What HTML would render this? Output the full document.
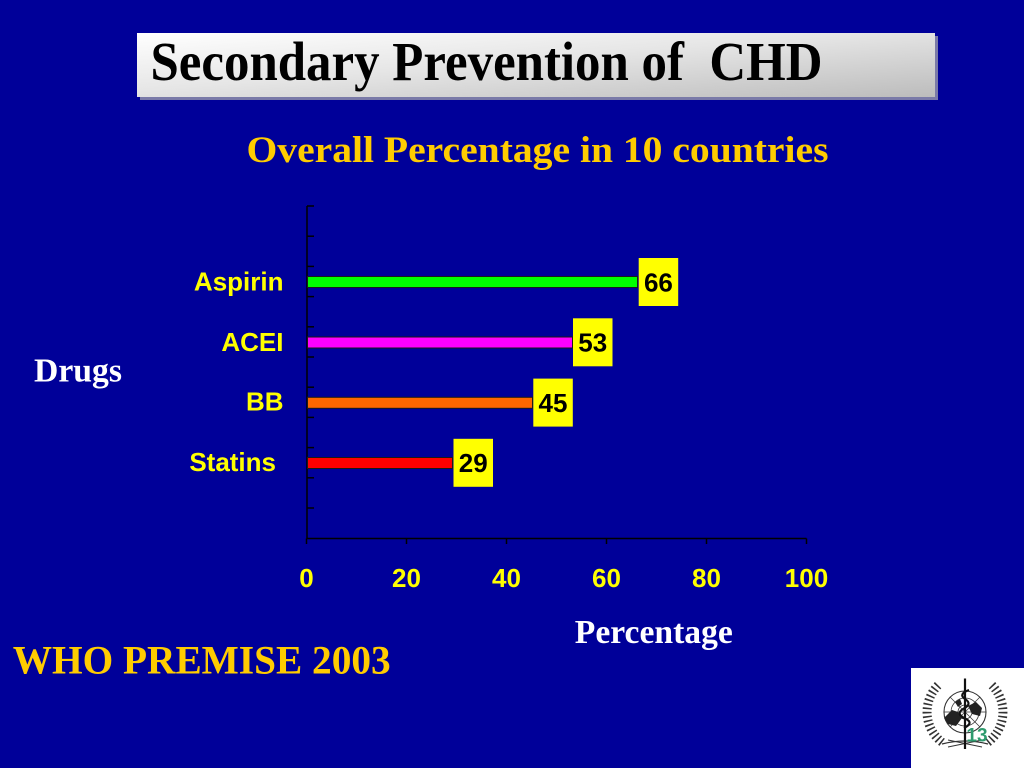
<!DOCTYPE html>
<html>
<head>
<meta charset="utf-8">
<style>
  html,body{margin:0;padding:0;background:#000099;}
  svg{display:block;}
</style>
</head>
<body>
<svg width="1024" height="768" viewBox="0 0 1024 768" xmlns="http://www.w3.org/2000/svg">
  <defs>
    <linearGradient id="tg" x1="0" y1="0" x2="1" y2="1">
      <stop offset="0" stop-color="#ffffff"/>
      <stop offset="0.45" stop-color="#e6e6e6"/>
      <stop offset="1" stop-color="#bcbcbc"/>
    </linearGradient>
  </defs>
  <rect x="0" y="0" width="1024" height="768" fill="#000099"/>

  <!-- Title box -->
  <rect x="140" y="36" width="798" height="64" fill="#7a7aa8"/>
  <rect x="137" y="33" width="798" height="64" fill="url(#tg)"/>
  <text x="150.5" y="80" font-family="Liberation Serif, serif" font-weight="bold" font-size="55" fill="#000" textLength="672" lengthAdjust="spacingAndGlyphs" xml:space="preserve">Secondary Prevention of  CHD</text>

  <!-- Subtitle -->
  <text x="246.5" y="162" font-family="Liberation Serif, serif" font-weight="bold" font-size="37" fill="#FFCC00" textLength="582" lengthAdjust="spacingAndGlyphs">Overall Percentage in 10 countries</text>

  <!-- Axes -->
  <g stroke="#000" stroke-width="1.5" fill="none">
    <line x1="307" y1="206" x2="307" y2="539"/>
    <line x1="306.5" y1="538.5" x2="806.5" y2="538.5"/>
    <line x1="307" y1="206" x2="314" y2="206"/>
    <line x1="307" y1="236.2" x2="314" y2="236.2"/>
    <line x1="307" y1="266.4" x2="314" y2="266.4"/>
    <line x1="307" y1="296.6" x2="314" y2="296.6"/>
    <line x1="307" y1="326.8" x2="314" y2="326.8"/>
    <line x1="307" y1="357" x2="314" y2="357"/>
    <line x1="307" y1="387.2" x2="314" y2="387.2"/>
    <line x1="307" y1="417.4" x2="314" y2="417.4"/>
    <line x1="307" y1="447.6" x2="314" y2="447.6"/>
    <line x1="307" y1="477.8" x2="314" y2="477.8"/>
    <line x1="307" y1="508" x2="314" y2="508"/>
    <line x1="306.5" y1="538.5" x2="306.5" y2="544"/>
    <line x1="406.5" y1="538.5" x2="406.5" y2="544"/>
    <line x1="506.5" y1="538.5" x2="506.5" y2="544"/>
    <line x1="606.5" y1="538.5" x2="606.5" y2="544"/>
    <line x1="706.5" y1="538.5" x2="706.5" y2="544"/>
    <line x1="806.5" y1="538.5" x2="806.5" y2="544"/>
  </g>

  <!-- Bars -->
  <g stroke="#1a1a1a" stroke-width="1">
    <rect x="307.5" y="276.5" width="330" height="11" fill="#00FF00"/>
    <rect x="307.5" y="337" width="265" height="11" fill="#FF00FF"/>
    <rect x="307.5" y="397.3" width="225" height="11" fill="#FF6600"/>
    <rect x="307.5" y="457.5" width="145" height="11" fill="#FF0000"/>
  </g>

  <!-- Value boxes -->
  <g fill="#FFFF00">
    <rect x="638.7" y="258" width="39.5" height="48"/>
    <rect x="573" y="318.3" width="39.5" height="48"/>
    <rect x="533.3" y="378.6" width="39.5" height="48"/>
    <rect x="453.5" y="438.8" width="39.5" height="48"/>
  </g>
  <g font-family="Liberation Sans, Arial, sans-serif" font-weight="bold" font-size="26" fill="#000" text-anchor="middle">
    <text x="658.4" y="291.3">66</text>
    <text x="592.7" y="351.6">53</text>
    <text x="553" y="411.9">45</text>
    <text x="473.2" y="472.1">29</text>
  </g>

  <!-- Category labels -->
  <g font-family="Liberation Sans, Arial, sans-serif" font-weight="bold" font-size="26" fill="#FFFF00" text-anchor="end">
    <text x="283.5" y="290.7">Aspirin</text>
    <text x="283.5" y="351">ACEI</text>
    <text x="283.5" y="410.7">BB</text>
    <text x="276" y="471">Statins</text>
  </g>

  <!-- X tick labels -->
  <g font-family="Liberation Sans, Arial, sans-serif" font-weight="bold" font-size="26" fill="#FFFF00" text-anchor="middle">
    <text x="306.5" y="587">0</text>
    <text x="406.5" y="587">20</text>
    <text x="506.5" y="587">40</text>
    <text x="606.5" y="587">60</text>
    <text x="706.5" y="587">80</text>
    <text x="806.5" y="587">100</text>
  </g>

  <!-- Axis titles -->
  <text x="574.8" y="643" font-family="Liberation Serif, serif" font-weight="bold" font-size="34" fill="#FFFFFF" textLength="158" lengthAdjust="spacingAndGlyphs">Percentage</text>
  <text x="34" y="381.7" font-family="Liberation Serif, serif" font-weight="bold" font-size="34" fill="#FFFFFF" textLength="88" lengthAdjust="spacingAndGlyphs">Drugs</text>

  <!-- Footer -->
  <text x="12.7" y="673.3" font-family="Liberation Serif, serif" font-weight="bold" font-size="40" fill="#FFCC00" textLength="378" lengthAdjust="spacingAndGlyphs">WHO PREMISE 2003</text>

  <!-- WHO logo -->
  <rect x="911" y="668" width="113" height="100" fill="#FFFFFF"/>
  <g fill="none" stroke="#333">
    <!-- laurel branches -->
    <path d="M 942.1 742.3 A 38 38 0 0 1 939.6 683.8" stroke-width="9" stroke-dasharray="1.6 2.6"/>
    <path d="M 987.9 742.3 A 38 38 0 0 0 990.4 683.8" stroke-width="9" stroke-dasharray="1.6 2.6"/>
    <path d="M 942 744 Q 965 738 988 744" stroke-width="1.2"/>
    <path d="M 948 747 L 982 740 M 948 740 L 982 747" stroke-width="1"/>
    <!-- globe -->
    <circle cx="965" cy="712" r="21" stroke-width="1.1"/>
    <circle cx="965" cy="712" r="14" stroke-width="0.8"/>
    <circle cx="965" cy="712" r="7" stroke-width="0.8"/>
    <line x1="944" y1="712" x2="986" y2="712" stroke-width="0.8"/>
    <line x1="950" y1="697" x2="980" y2="727" stroke-width="0.7"/>
    <line x1="980" y1="697" x2="950" y2="727" stroke-width="0.7"/>
  </g>
  <!-- continents -->
  <path d="M 944 718 L 952 710 L 958 712 L 962 718 L 956 726 L 948 724 Z" fill="#222"/>
  <path d="M 968 706 L 976 702 L 982 708 L 980 716 L 972 714 Z" fill="#222"/>
  <path d="M 955 702 L 960 699 L 962 704 L 958 707 Z" fill="#222"/>
  <!-- staff and snake -->
  <line x1="965" y1="678.5" x2="965" y2="749" stroke="#111" stroke-width="2.2"/>
  <path d="M 969 690 Q 958 694 965 699 Q 973 704 963 709 Q 955 714 966 719 Q 974 723 964 728" fill="none" stroke="#111" stroke-width="2.2"/>
  <text x="977" y="741.5" font-family="Liberation Sans, Arial, sans-serif" font-weight="bold" font-size="19" fill="#2E9B6E" text-anchor="middle">13</text>
</svg>
</body>
</html>
